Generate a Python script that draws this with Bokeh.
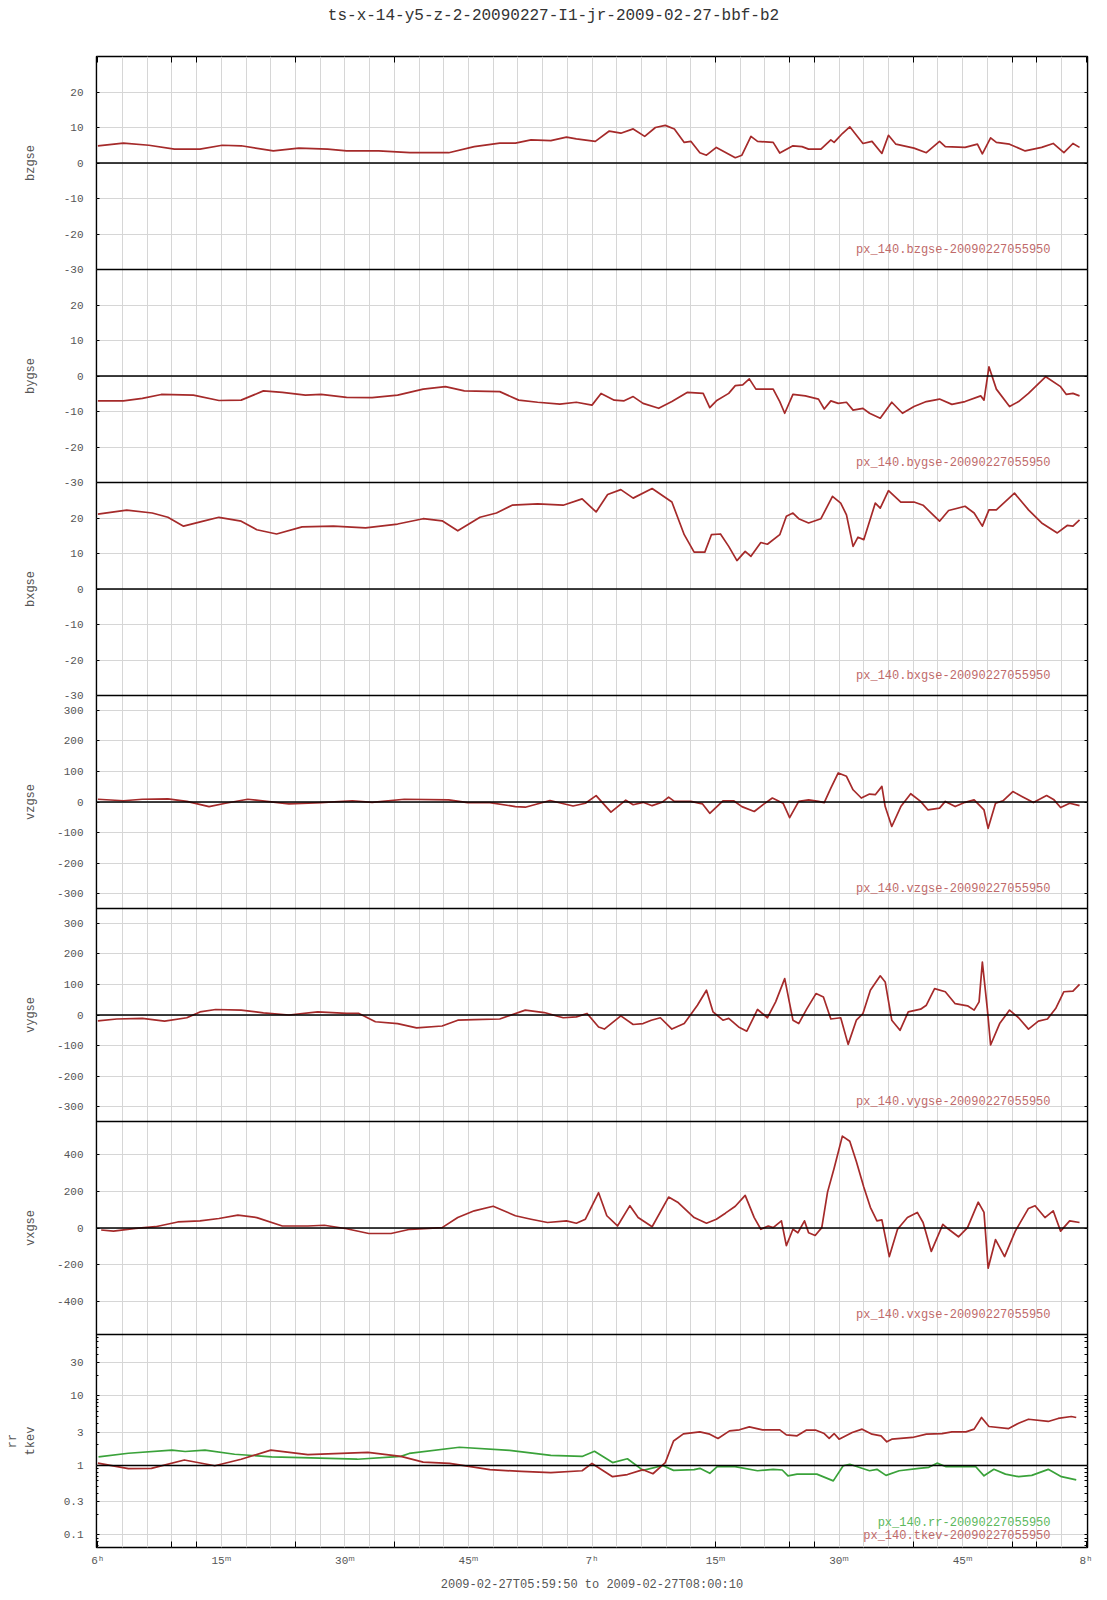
import math
from bokeh.plotting import figure
from bokeh.layouts import column, row
from bokeh.models import (Range1d, FixedTicker, LinearAxis, LogScale, Span, Label, Div)
from bokeh.embed import file_html
from bokeh.resources import INLINE

FONT = "Liberation Mono"
LINE_RED = "#a52a2a"
LINE_GREEN = "#3aa23a"
TEXT_RED = "#c06a6a"
TEXT_GREEN = "#5cb85c"
GRID = "#d6d6d6"
GRAY = "#555555"

title_text = "ts-x-14-y5-z-2-20090227-I1-jr-2009-02-27-bbf-b2"
time_label = "2009-02-27T05:59:50 to 2009-02-27T08:00:10"

# time axis (minutes after 06:00)
x_tick_minutes = [0, 15, 30, 45, 60, 75, 90, 105, 120]
x_tick_labels = ["6ʰ", "15ᵐ", "30ᵐ", "45ᵐ", "7ʰ", "15ᵐ", "30ᵐ", "45ᵐ", "8ʰ"]
x_mark_minutes = [0, 9, 12, 24, 36, 75, 84, 87, 99, 111, 114, 120]
grid_minutes = list(range(0, 121, 3))

# ---- series ----
t_bz = [0, 3.1, 6.2, 9.3, 12.4, 15.1, 17.4, 21.3, 24.4, 27.9, 30.2, 34.1, 37.9, 42.6, 45.7,
        48.8, 50.7, 52.6, 55.0, 56.9, 58.1, 60.4, 62.1, 63.5, 65.0, 66.4, 67.7, 68.9, 70.0, 71.2,
        72.0, 73.1, 73.9, 75.1, 77.4, 78.2, 79.3, 80.1, 82.0, 82.8, 84.4, 85.5, 86.3, 87.8, 89.0,
        89.4, 90.4, 91.3, 92.9, 94.0, 95.2, 96.0, 96.9, 99.1, 100.6, 102.2, 102.9, 105.3, 106.8,
        107.4, 108.4, 109.1, 110.7, 112.6, 114.6, 116.0, 117.3, 118.4, 119.2]
bzgse = [4.85, 5.6, 5.0, 3.9, 3.9, 5.0, 4.85, 3.4, 4.2, 3.9, 3.4, 3.4, 2.9, 2.9, 4.6,
         5.6, 5.6, 6.5, 6.3, 7.3, 6.8, 6.1, 9.0, 8.4, 9.6, 7.5, 10.0, 10.6, 9.6, 5.8,
         6.1, 2.9, 2.2, 4.4, 1.5, 2.2, 7.5, 6.1, 5.8, 2.8, 4.85, 4.6, 3.9, 3.9, 6.5,
         5.8, 8.3, 10.2, 5.5, 6.1, 2.7, 7.8, 5.3, 4.2, 2.9, 6.1, 4.6, 4.4, 5.3,
         2.6, 7.1, 5.8, 5.3, 3.4, 4.4, 5.5, 2.9, 5.5, 4.4]

t_by = [0, 3.1, 5.4, 7.7, 11.6, 14.7, 17.4, 20.1, 22.4, 25.2, 27.1, 30.2, 33.3, 36.4, 39.5,
        42.2, 44.5, 48.8, 51.1, 53.4, 56.1, 58.1, 60.0, 61.1, 62.7, 63.9, 65.0, 66.2, 68.1, 69.7,
        71.6, 73.5, 74.3, 75.1, 76.6, 77.4, 78.3, 79.1, 79.9, 82.0, 82.8, 83.4, 84.4, 85.9, 87.5,
        88.2, 89.0, 89.9, 90.9, 91.7, 92.9, 93.7, 95.0, 96.4, 97.7, 99.1, 100.6, 102.2, 103.7,
        105.3, 107.2, 107.6, 108.2, 109.1, 110.7, 111.8, 113.0, 115.1, 116.9, 117.6, 118.4, 119.2]
bygse = [-7.0, -7.0, -6.3, -5.2, -5.4, -6.9, -6.8, -4.2, -4.6, -5.4, -5.2, -6.0, -6.1, -5.4, -3.7,
         -3.0, -4.2, -4.4, -6.8, -7.4, -7.9, -7.4, -8.2, -4.9, -6.8, -7.0, -5.8, -7.7, -9.1, -7.2,
         -4.6, -4.9, -8.9, -7.0, -4.9, -2.7, -2.5, -0.8, -3.7, -3.7, -7.2, -10.5, -5.2, -5.6, -6.5,
         -9.3, -7.0, -7.7, -7.4, -9.6, -9.1, -10.5, -11.9, -7.4, -10.5, -8.6, -7.2, -6.5, -8.0,
         -7.2, -5.6, -6.8, 2.6, -3.7, -8.6, -7.2, -4.9, -0.2, -3.0, -5.2, -4.9, -5.6]

t_bx = [0, 3.5, 6.6, 8.5, 10.4, 12.8, 14.7, 17.4, 19.3, 21.7, 24.8, 28.6, 32.5, 36.4, 39.5,
        41.8, 43.7, 46.4, 48.4, 50.3, 53.4, 56.5, 58.8, 60.5, 61.9, 63.5, 65.0, 67.3, 69.7, 71.2,
        72.4, 73.7, 74.5, 75.6, 76.6, 77.6, 78.6, 79.3, 80.5, 81.3, 82.8, 83.6, 84.4, 85.1, 86.3,
        87.8, 89.2, 90.2, 90.9, 91.7, 92.3, 93.0, 94.4, 95.0, 96.0, 97.5, 99.1, 100.2, 102.2,
        103.3, 105.3, 106.4, 107.4, 108.2, 109.1, 111.3, 113.0, 114.6, 116.5, 117.7, 118.4, 119.2]
bxgse = [21.1, 22.2, 21.4, 20.2, 17.7, 19.1, 20.2, 19.1, 16.7, 15.5, 17.5, 17.7, 17.2, 18.3, 19.8,
         19.2, 16.4, 20.2, 21.4, 23.6, 24.0, 23.6, 25.4, 21.7, 26.6, 28.0, 25.6, 28.3, 24.5, 15.3,
         10.4, 10.4, 15.3, 15.5, 12.0, 8.0, 10.6, 9.2, 13.1, 12.6, 15.3, 20.5, 21.4, 19.8, 18.6,
         19.8, 26.1, 24.2, 20.9, 12.0, 14.6, 13.9, 24.2, 22.8, 27.7, 24.5, 24.5, 23.6, 19.1,
         22.1, 23.3, 21.4, 17.7, 22.3, 22.3, 27.0, 22.3, 18.6, 15.8, 17.9, 17.7, 19.5]

t_vz = [0, 3.1, 5.4, 8.5, 10.8, 13.5, 15.5, 18.2, 20.5, 23.2, 27.1, 30.9, 33.3, 37.2, 42.6,
        44.9, 47.6, 50.7, 51.9, 54.9, 57.7, 59.2, 60.5, 62.3, 64.1, 65.0, 66.2, 67.3, 68.5, 69.3,
        70.0, 72.0, 73.4, 74.3, 75.9, 77.2, 78.2, 79.7, 80.9, 81.9, 83.2, 84.0, 85.1, 86.3, 87.5,
        88.2, 89.0, 89.9, 90.9, 91.7, 92.7, 93.7, 94.4, 95.2, 95.6, 96.4, 97.5, 98.7, 99.9, 100.8,
        102.2, 102.9, 104.1, 105.3, 106.4, 107.6, 108.1, 109.0, 109.9, 111.1, 112.2, 113.6, 115.2,
        116.1, 116.9, 118.0, 119.2]
vzgse = [9, 4, 9, 10, 2, -15, -4, 9, 2, -6, -2, 4, -1, 9, 7,
         -2, -2, -15, -17, 5, -13, -4, 21, -33, 6, -9, -1, -12, -1, 16,
         2, 2, -6, -37, 4, 4, -15, -31, -6, 13, -4, -51, 2, 7, 2,
         -2, 45, 95, 84, 40, 13, 26, 24, 51, -15, -80, -15, 27, 2, -26,
         -20, 2, -15, -1, 7, -26, -86, -4, 4, 34, 18, -2, 21,
         7, -18, -4, -12]

t_vy = [0, 2.3, 5.4, 8.1, 10.8, 12.4, 14.3, 17.4, 20.1, 23.2, 26.7, 30.2, 31.7, 33.7, 36.4,
        38.7, 41.8, 43.7, 45.7, 48.8, 51.9, 54.2, 56.5, 58.1, 59.4, 60.8, 61.5, 63.5, 65.0, 66.2,
        67.2, 68.3, 69.7, 71.2, 72.8, 73.9, 74.7, 75.9, 76.6, 77.8, 78.8, 80.1, 81.3, 82.3, 83.4,
        84.4, 85.1, 86.1, 87.2, 88.1, 89.0, 90.2, 91.1, 92.1, 92.9, 93.8, 95.0, 95.6, 96.4, 97.4,
        98.4, 99.9, 100.6, 101.6, 102.9, 104.1, 105.6, 106.4, 107.0, 107.4, 108.0, 108.4, 109.5,
        110.7, 111.8, 113.0, 114.2, 115.3, 116.3, 117.3, 118.4, 119.2]
vygse = [-19, -13, -11, -20, -9, 10, 18, 16, 7, 0, 10, 5, 5, -22, -28,
         -42, -36, -17, -15, -13, 16, 8, -9, -6, 5, -39, -46, -3, -31, -28,
         -17, -9, -46, -28, 32, 81, 10, -17, -11, -39, -53, 18, -9, 43, 119,
         -17, -28, 21, 70, 59, -13, -9, -96, -17, 5, 81, 128, 108, -17, -50,
         10, 19, 32, 86, 76, 37, 30, 16, 43, 173, 21, -98, -28,
         16, -9, -46, -20, -13, 21, 76, 78, 100]

t_vx = [0.4, 1.9, 4.6, 7.0, 9.7, 12.4, 14.7, 17.0, 19.3, 22.4, 25.5, 27.5, 30.2, 32.9, 35.6,
        37.9, 41.8, 43.7, 45.7, 48.0, 50.7, 52.6, 54.6, 56.9, 58.1, 59.2, 60.8, 61.8, 63.1, 64.6,
        65.6, 67.3, 69.3, 70.4, 72.4, 73.9, 75.1, 76.2, 77.4, 78.6, 79.7, 80.5, 81.4, 82.0, 83.0,
        83.6, 84.4, 85.0, 85.8, 86.3, 87.1, 87.9, 88.6, 89.4, 90.4, 91.3, 92.1, 93.0, 93.8, 94.6,
        95.2, 96.1, 97.1, 98.3, 99.5, 100.2, 101.2, 102.6, 103.3, 104.5, 105.6, 106.9, 107.6,
        108.1, 109.0, 110.1, 111.4, 113.0, 113.8, 115.0, 116.0, 116.9, 118.0, 119.2]
vxgse = [-11, -17, -2, 7, 33, 39, 52, 70, 57, 11, 11, 15, -4, -30, -30,
         -7, 2, 57, 94, 119, 67, 48, 30, 39, 26, 48, 193, 67, 11, 122,
         57, 7, 169, 141, 57, 26, 48, 81, 119, 178, 57, -7, 11, 2, 39,
         -96, -7, -26, 39, -26, -41, 2, 196, 326, 502, 474, 363, 224, 113, 39,
         44, -156, -7, 57, 85, 30, -128, 20, -7, -48, 2, 141, 85,
         -220, -63, -156, -17, 107, 122, 57, 94, -17, 39, 30]

t_rr = [0.08, 3.7, 9.0, 10.6, 13.0, 16.6, 21.1, 24.7, 31.5, 36.8, 37.8, 43.9, 50.0, 55.0, 58.8,
        60.3, 62.5, 64.3, 66.2, 68.6, 69.9, 72.4, 73.1, 74.3, 75.2, 77.2, 80.1, 82.0, 83.1, 83.8,
        84.9, 87.3, 89.3, 90.5, 91.3, 93.7, 94.6, 95.7, 97.3, 99.7, 100.9, 101.9, 103.0, 106.6,
        107.6, 108.8, 110.2, 111.8, 113.4, 115.4, 117.0, 118.8]
rr = [1.33, 1.5, 1.66, 1.59, 1.66, 1.45, 1.33, 1.3, 1.23, 1.35, 1.49, 1.83, 1.65, 1.4, 1.35,
      1.6, 1.1, 1.25, 0.85, 1.0, 0.85, 0.87, 0.91, 0.77, 0.96, 0.97, 0.84, 0.88, 0.86, 0.71,
      0.75, 0.75, 0.60, 0.99, 1.04, 0.84, 0.88, 0.72, 0.84, 0.91, 0.94, 1.08, 0.96, 0.96,
      0.71, 0.88, 0.75, 0.69, 0.72, 0.88, 0.69, 0.62]

t_tkev = [0.0, 3.7, 6.5, 10.5, 14.2, 17.4, 21.0, 25.5, 32.8, 36.8, 39.5, 42.7, 47.6, 51.4, 55.0,
          58.8, 60.0, 62.5, 64.3, 66.2, 67.4, 68.9, 69.9, 71.1, 73.1, 74.3, 75.3, 76.7, 77.9, 79.1,
          80.7, 82.8, 83.6, 84.9, 86.0, 87.2, 88.2, 88.8, 89.4, 90.0, 91.6, 92.8, 94.0, 95.1, 95.8,
          96.4, 98.9, 100.6, 102.5, 103.7, 105.4, 106.4, 107.3, 108.2, 110.6, 111.8, 113.0, 115.4,
          116.6, 118.2, 118.8]
tkev = [1.08, 0.9, 0.91, 1.2, 0.99, 1.23, 1.66, 1.43, 1.54, 1.35, 1.12, 1.07, 0.87, 0.82, 0.79,
        0.84, 1.07, 0.69, 0.74, 0.87, 0.76, 1.1, 2.25, 2.85, 3.05, 2.82, 2.45, 3.15, 3.26, 3.6,
        3.26, 3.26, 2.76, 2.67, 3.22, 3.22, 2.88, 2.45, 2.88, 2.39, 2.98, 3.33, 2.82, 2.67, 2.19,
        2.39, 2.53, 2.82, 2.88, 3.05, 3.05, 3.33, 4.9, 3.64, 3.4, 4.06, 4.63, 4.3,
        4.75, 5.07, 4.9]

# ---- axis ticks per panel ----
b_ticks = [-30, -20, -10, 0, 10, 20]
v_ticks = [-300, -200, -100, 0, 100, 200, 300]
vx_ticks = [-400, -200, 0, 200, 400]
log_ticks = [0.1, 0.3, 1, 3, 10, 30]
log_minor = [0.07, 0.08, 0.09, 0.2, 0.4, 0.5, 0.6, 0.7, 0.8, 0.9,
             2, 4, 5, 6, 7, 8, 9, 20, 40, 50, 60, 70]

panels = [
    dict(names=["bzgse"], yr=(-30, 30), ticks=b_ticks, ref=0,
         lines=[(t_bz, bzgse, LINE_RED)],
         tags=[("px_140.bzgse-20090227055950", TEXT_RED, 20)]),
    dict(names=["bygse"], yr=(-30, 30), ticks=b_ticks, ref=0,
         lines=[(t_by, bygse, LINE_RED)],
         tags=[("px_140.bygse-20090227055950", TEXT_RED, 20)]),
    dict(names=["bxgse"], yr=(-30, 30), ticks=b_ticks, ref=0,
         lines=[(t_bx, bxgse, LINE_RED)],
         tags=[("px_140.bxgse-20090227055950", TEXT_RED, 20)]),
    dict(names=["vzgse"], yr=(-348, 348), ticks=v_ticks, ref=0,
         lines=[(t_vz, vzgse, LINE_RED)],
         tags=[("px_140.vzgse-20090227055950", TEXT_RED, 20)]),
    dict(names=["vygse"], yr=(-348, 348), ticks=v_ticks, ref=0,
         lines=[(t_vy, vygse, LINE_RED)],
         tags=[("px_140.vygse-20090227055950", TEXT_RED, 20)]),
    dict(names=["vxgse"], yr=(-582, 582), ticks=vx_ticks, ref=0,
         lines=[(t_vx, vxgse, LINE_RED)],
         tags=[("px_140.vxgse-20090227055950", TEXT_RED, 20)]),
    dict(names=["rr", "tkev"], yr=(0.066, 76.7), ticks=log_ticks, minor=log_minor, log=True,
         ref=1,
         lines=[(t_rr, rr, LINE_GREEN), (t_tkev, tkev, LINE_RED)],
         tags=[("px_140.rr-20090227055950", TEXT_GREEN, 25),
               ("px_140.tkev-20090227055950", TEXT_RED, 12)]),
]

TOTAL_W = 1097
STRIP_W = 48
PANEL_H = 213
N = len(panels)
FRAME_H = PANEL_H * N
TOP_PAD = 20
BOTTOM_PAD = 50
FIG_H = FRAME_H + TOP_PAD + BOTTOM_PAD

x_range = Range1d(-1 / 6, 120 + 1 / 6)

p = figure(width=TOTAL_W - STRIP_W, height=FIG_H, x_range=x_range,
           y_range=Range1d(0, N), x_axis_location=None, y_axis_location=None,
           output_backend="svg", toolbar_location=None,
           min_border_left=96 - STRIP_W, min_border_right=10,
           min_border_top=TOP_PAD, min_border_bottom=BOTTOM_PAD)
p.outline_line_color = "black"
p.outline_line_width = 1.5
p.background_fill_color = "white"
p.border_fill_color = "white"

# one y range per panel, stretched so that each panel fills its own slot of the frame
extra_ranges = {}
extra_scales = {}
tick_pos, tick_txt, minor_pos = [], [], []
for k, spec in enumerate(panels):
    slot = N - 1 - k  # slot index from the bottom
    lo, hi = spec["yr"]
    name = "p%d" % k
    spec["rname"] = name
    if spec.get("log"):
        llo, lhi = math.log10(lo), math.log10(hi)
        span = lhi - llo
        extra_ranges[name] = Range1d(10 ** (llo - slot * span), 10 ** (lhi + (N - 1 - slot) * span))
        extra_scales[name] = LogScale()
        to_slot = lambda v, llo=llo, span=span, slot=slot: slot + (math.log10(v) - llo) / span
    else:
        span = hi - lo
        extra_ranges[name] = Range1d(lo - slot * span, hi + (N - 1 - slot) * span)
        to_slot = lambda v, lo=lo, span=span, slot=slot: slot + (v - lo) / span
    for v in spec["ticks"]:
        tick_pos.append(to_slot(v))
        tick_txt.append("%g" % v)
    for v in spec.get("minor", []):
        minor_pos.append(to_slot(v))
    spec["slot"] = slot

p.extra_y_ranges = extra_ranges
p.extra_y_scales = extra_scales

yt = FixedTicker(ticks=tick_pos, minor_ticks=minor_pos)
ya = LinearAxis(ticker=yt, axis_line_color=None, major_tick_in=3, major_tick_out=0,
                minor_tick_in=2, minor_tick_out=0, major_label_standoff=13,
                major_label_overrides=dict(zip(tick_pos, tick_txt)),
                major_label_text_font=FONT, major_label_text_font_size="11px",
                major_label_text_color=GRAY)
p.add_layout(ya, "left")
ra = LinearAxis(ticker=FixedTicker(ticks=[], minor_ticks=tick_pos + minor_pos),
                axis_line_color=None, major_tick_in=0, major_tick_out=0,
                minor_tick_in=3, minor_tick_out=0, major_label_standoff=0)
p.add_layout(ra, "right")

p.ygrid.ticker = yt
p.ygrid.grid_line_color = GRID
p.xgrid.ticker = FixedTicker(ticks=grid_minutes)
p.xgrid.grid_line_color = GRID

ta = LinearAxis(ticker=FixedTicker(ticks=[], minor_ticks=x_mark_minutes), axis_line_color=None,
                major_tick_in=0, major_tick_out=0, minor_tick_in=6, minor_tick_out=0,
                major_label_standoff=0)
p.add_layout(ta, "above")
ba = LinearAxis(ticker=FixedTicker(ticks=x_tick_minutes, minor_ticks=x_mark_minutes),
                axis_line_color=None, major_tick_in=0, major_tick_out=0,
                minor_tick_in=6, minor_tick_out=0,
                major_label_overrides=dict(zip(x_tick_minutes, x_tick_labels)),
                major_label_standoff=7, major_label_text_font=FONT,
                major_label_text_font_size="11px", major_label_text_color=GRAY,
                axis_label=time_label, axis_label_text_font=FONT,
                axis_label_text_font_size="12px", axis_label_text_font_style="normal",
                axis_label_text_color=GRAY, axis_label_standoff=8)
p.add_layout(ba, "below")

# strip on the left that carries the per-panel axis names
strip = figure(width=STRIP_W, height=FIG_H, x_range=Range1d(0, STRIP_W), y_range=Range1d(0, N),
               x_axis_location=None, y_axis_location=None, output_backend="svg",
               toolbar_location=None, min_border_left=0, min_border_right=0,
               min_border_top=TOP_PAD, min_border_bottom=BOTTOM_PAD)
strip.outline_line_color = None
strip.grid.visible = False
strip.background_fill_color = "white"
strip.border_fill_color = "white"

for k, spec in enumerate(panels):
    rname = spec["rname"]
    for t, vals, col in spec["lines"]:
        p.line(t, vals, line_color=col, line_width=1.7, line_join="round", y_range_name=rname)
    p.add_layout(Span(location=spec["ref"], dimension="width", line_color="black",
                      line_width=1.5, y_range_name=rname))
    base = spec["slot"] * PANEL_H
    for txt, col, yoff in spec["tags"]:
        p.add_layout(Label(x=954, y=base + yoff, x_units="screen", y_units="screen", text=txt,
                           text_align="right", text_baseline="middle", text_font=FONT,
                           text_font_size="12px", text_color=col))
    names = spec["names"]
    xs = [30] if len(names) == 1 else [12, 30]
    for nm, xx in zip(names, xs):
        strip.add_layout(Label(x=xx, y=spec["slot"] + 0.5, text=nm, angle=90,
                               angle_units="deg", text_align="center", text_baseline="middle",
                               text_font=FONT, text_font_size="12px", text_color=GRAY))

# panel separators
for j in range(1, N):
    p.add_layout(Span(location=j, dimension="width", line_color="black", line_width=1.5))

title_div = Div(text=title_text, width=TOTAL_W, height=26,
                styles={"font-family": FONT, "font-size": "16px", "color": "#333333",
                        "text-align": "center", "line-height": "22px"})

layout = column([title_div, row([strip, p], spacing=0)], spacing=0)
open("out.html", "w").write(file_html(layout, INLINE))
